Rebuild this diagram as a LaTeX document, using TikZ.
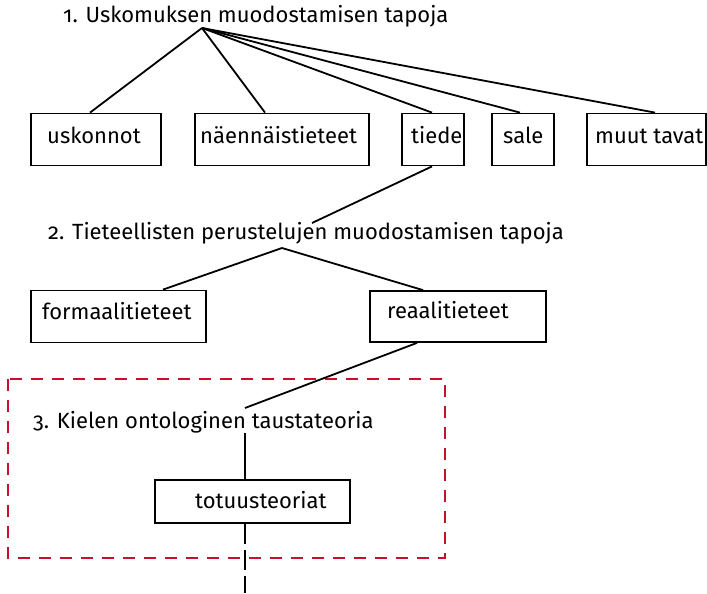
\documentclass[tikz,border=0pt]{standalone}
\usepackage{fontspec}
\setmainfont{Fira Sans}[Numbers=OldStyle]
\definecolor{framered}{RGB}{200,16,46}
\begin{document}
\begin{tikzpicture}[x=1pt,y=-1pt,
  box/.style={draw, line width=1.8pt, inner sep=0pt},
  txt/.style={inner sep=0pt, anchor=base west, font=\fontsize{22}{26}\selectfont},
  link/.style={line width=1.8pt},
  frame/.style={draw=framered, line width=1.8pt, dash pattern=on 12pt off 9pt},
  tail/.style={line width=1.8pt, dash pattern=on 20pt off 6pt}]
\useasboundingbox (0,0) rectangle (707,594);

% level 1: ways of forming beliefs
\node[txt] (h1) at (63,23) {1. Uskomuksen muodostamisen tapoja};
\coordinate (h1b) at (202,28);

\node[box, minimum width=130pt, minimum height=52pt] (usk) at (96,139.5) {};
\node[txt] (usk-t) at (47,143) {uskonnot};
\node[box, minimum width=174pt, minimum height=52pt] (nae) at (282,139.5) {};
\node[txt] (nae-t) at (200,143) {näennäistieteet};
\node[box, minimum width=62pt, minimum height=52pt] (tie) at (433,139.5) {};
\node[txt] (tie-t) at (411,143) {tiede};
\node[box, minimum width=62pt, minimum height=52pt] (sal) at (523,139.5) {};
\node[txt] (sal-t) at (503,143) {sale};
\node[box, minimum width=119pt, minimum height=52pt] (muu) at (646.5,139.5) {};
\node[txt] (muu-t) at (595,143) {muut tavat};

\draw[link] (h1b) -- ([xshift=-6pt]usk.north);
\draw[link] (h1b) -- ([xshift=-17pt]nae.north);
\draw[link] (h1b) -- ([xshift=-1pt]tie.north);
\draw[link] (h1b) -- ([xshift=-3pt]sal.north);
\draw[link] (h1b) -- ([xshift=8.5pt]muu.north);

% level 2: ways of forming scientific arguments
\node[txt] (h2) at (48,239) {2. Tieteellisten perustelujen muodostamisen tapoja};
\coordinate (h2t) at (312,223);
\coordinate (h2b) at (282,248);
\draw[link] ([xshift=-1pt]tie.south) -- (h2t);

\node[box, minimum width=175pt, minimum height=52pt] (for) at (118.5,316.5) {};
\node[txt] (for-t) at (42,319) {formaalitieteet};
\node[box, minimum width=176pt, minimum height=51pt] (rea) at (458,316.5) {};
\node[txt] (rea-t) at (387,318) {reaalitieteet};

\draw[link] (h2b) -- ([xshift=44.5pt]for.north);
\draw[link] (h2b) -- ([xshift=-35pt]rea.north);

% level 3: ontological background theory of language
\draw[frame] (8,379) rectangle (445,558);
\node[txt] (h3) at (33,428) {3. Kielen ontologinen taustateoria};
\coordinate (h3t) at (245,408);
\coordinate (h3b) at (245,433);
\draw[link] ([xshift=-41pt]rea.south) -- (h3t);

\node[box, minimum width=195pt, minimum height=43pt] (tot) at (252.5,501.5) {};
\node[txt] (tot-t) at (195,508) {totuusteoriat};
\draw[link] (h3b) -- ([xshift=-7.5pt]tot.north);
\coordinate (end) at (245,593);
\draw[tail] ([xshift=-7.5pt]tot.south) -- (end);
\end{tikzpicture}
\end{document}
